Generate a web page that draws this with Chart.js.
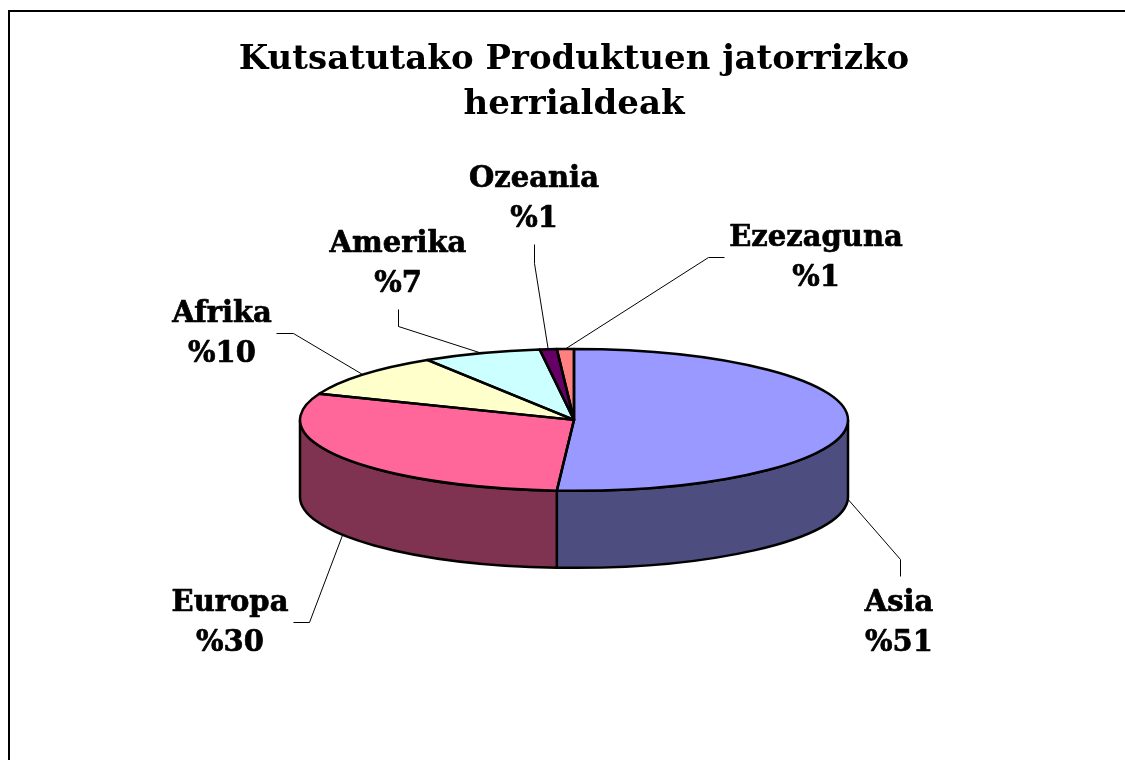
<!DOCTYPE html>
<html>
<head>
<meta charset="utf-8">
<title>Kutsatutako Produktuen jatorrizko herrialdeak</title>
<script src="https://cdn.jsdelivr.net/npm/chart.js@4/dist/chart.umd.min.js"></script>
<style>
  html, body { margin: 0; padding: 0; background: #fff; overflow: hidden; }
  #frame { position: absolute; left: 8px; top: 10px; width: 1300px; height: 1000px; border: 2px solid #000; }
  #pie { position: absolute; left: 0; top: 0; }
</style>
</head>
<body>
<div id="frame"></div>
<canvas id="pie" width="1125" height="760"></canvas>
<script>
// data
const categories = ['Asia', 'Europa', 'Afrika', 'Amerika', 'Ozeania', 'Ezezaguna'];
const shares = [51, 30, 10, 7, 1, 1];
const topColors = ['#9999FF', '#FF6699', '#FFFFCC', '#CCFFFF', '#660066', '#FF8080'];
const sideColors = ['#4D4D80', '#803350', '#808066', '#668080', '#330033', '#804040'];

// label centres and leader elbows, in page pixels
const labelPos = [[899, 603], [230, 603], [222, 314], [398, 244], [534, 179], [816, 238]];
const leaderElbow = [[900, 559], [309, 622], [293, 333], [398, 326], [534, 263], [708, 257]];
const leaderEnd = [[900, 576], [293, 622], [276, 333], [398, 309], [534, 244], [724, 257]];

// fake 3d look
const SQUASH = 0.259;
const DEPTH = 77;
const OUTLINE = 2.5;
const LABEL_FONT = 'bold 29px "DejaVu Serif"';

function arcProps(arc) {
  return arc.getProps(['x', 'y', 'startAngle', 'endAngle', 'outerRadius'], true);
}

function boldText(ctx, text, x, y) {
  ctx.fillText(text, x, y);
  ctx.strokeText(text, x, y);
}

const pie3d = {
  id: 'pie3d',
  beforeDatasetDraw(chart, args) {
    const ctx = chart.ctx;
    // walls first, only the front half of the ellipse shows
    args.meta.data.forEach((arc, i) => {
      const p = arcProps(arc);
      const a = Math.max(p.startAngle, 0);
      const b = Math.min(p.endAngle, Math.PI);
      if (b <= a) return;
      const rx = p.outerRadius, ry = rx * SQUASH;
      ctx.beginPath();
      ctx.ellipse(p.x, p.y, rx, ry, 0, a, b);
      ctx.ellipse(p.x, p.y + DEPTH, rx, ry, 0, b, a, true);
      ctx.closePath();
      ctx.fillStyle = sideColors[i];
      ctx.fill();
      ctx.strokeStyle = '#000';
      ctx.lineWidth = OUTLINE;
      ctx.stroke();
    });
    // library draws the top of the pie squashed
    const c = args.meta.data[0];
    ctx.save();
    ctx.translate(c.x, c.y);
    ctx.scale(1, SQUASH);
    ctx.translate(-c.x, -c.y);
  },
  afterDatasetDraw(chart, args) {
    const ctx = chart.ctx;
    ctx.restore();
    // outline here so the pen is not squashed too
    args.meta.data.forEach(arc => {
      const p = arcProps(arc);
      ctx.beginPath();
      ctx.moveTo(p.x, p.y);
      ctx.ellipse(p.x, p.y, p.outerRadius, p.outerRadius * SQUASH, 0, p.startAngle, p.endAngle);
      ctx.closePath();
      ctx.strokeStyle = '#000';
      ctx.lineWidth = OUTLINE;
      ctx.lineJoin = 'round';
      ctx.stroke();
    });
  },
  afterDraw(chart) {
    const ctx = chart.ctx;
    const arcs = chart.getDatasetMeta(0).data;
    arcs.forEach((arc, i) => {
      const p = arcProps(arc);
      const mid = (p.startAngle + p.endAngle) / 2;
      let sx = p.x + p.outerRadius * Math.cos(mid);
      let sy = p.y + p.outerRadius * SQUASH * Math.sin(mid);
      if (Math.sin(mid) > 0) sy += DEPTH;

      ctx.beginPath();
      ctx.moveTo(sx, sy);
      ctx.lineTo(leaderElbow[i][0] + 0.5, leaderElbow[i][1] + 0.5);
      ctx.lineTo(leaderEnd[i][0] + 0.5, leaderEnd[i][1] + 0.5);
      ctx.strokeStyle = '#000';
      ctx.lineWidth = 1;
      ctx.stroke();

      ctx.fillStyle = '#000';
      ctx.lineWidth = 0.7;
      ctx.font = LABEL_FONT;
      ctx.textAlign = 'center';
      ctx.textBaseline = 'middle';
      boldText(ctx, categories[i], labelPos[i][0], labelPos[i][1]);
      boldText(ctx, '%' + shares[i], labelPos[i][0], labelPos[i][1] + 40);
    });
  }
};

new Chart(document.getElementById('pie'), {
  type: 'pie',
  data: {
    labels: categories,
    datasets: [{
      data: shares,
      backgroundColor: topColors,
      borderWidth: 0,
      clip: false
    }]
  },
  options: {
    responsive: false,
    animation: false,
    radius: 274,
    layout: { padding: { left: 23, bottom: 50 } },
    plugins: {
      legend: { display: false },
      tooltip: { enabled: false },
      title: {
        display: true,
        fullSize: false,
        text: ['Kutsatutako Produktuen jatorrizko', 'herrialdeak'],
        color: '#000',
        font: { family: '"DejaVu Serif"', size: 34, weight: 'bold', lineHeight: 1.32 },
        padding: { top: 38, bottom: 2 }
      }
    }
  },
  plugins: [pie3d]
});
</script>
</body>
</html>
